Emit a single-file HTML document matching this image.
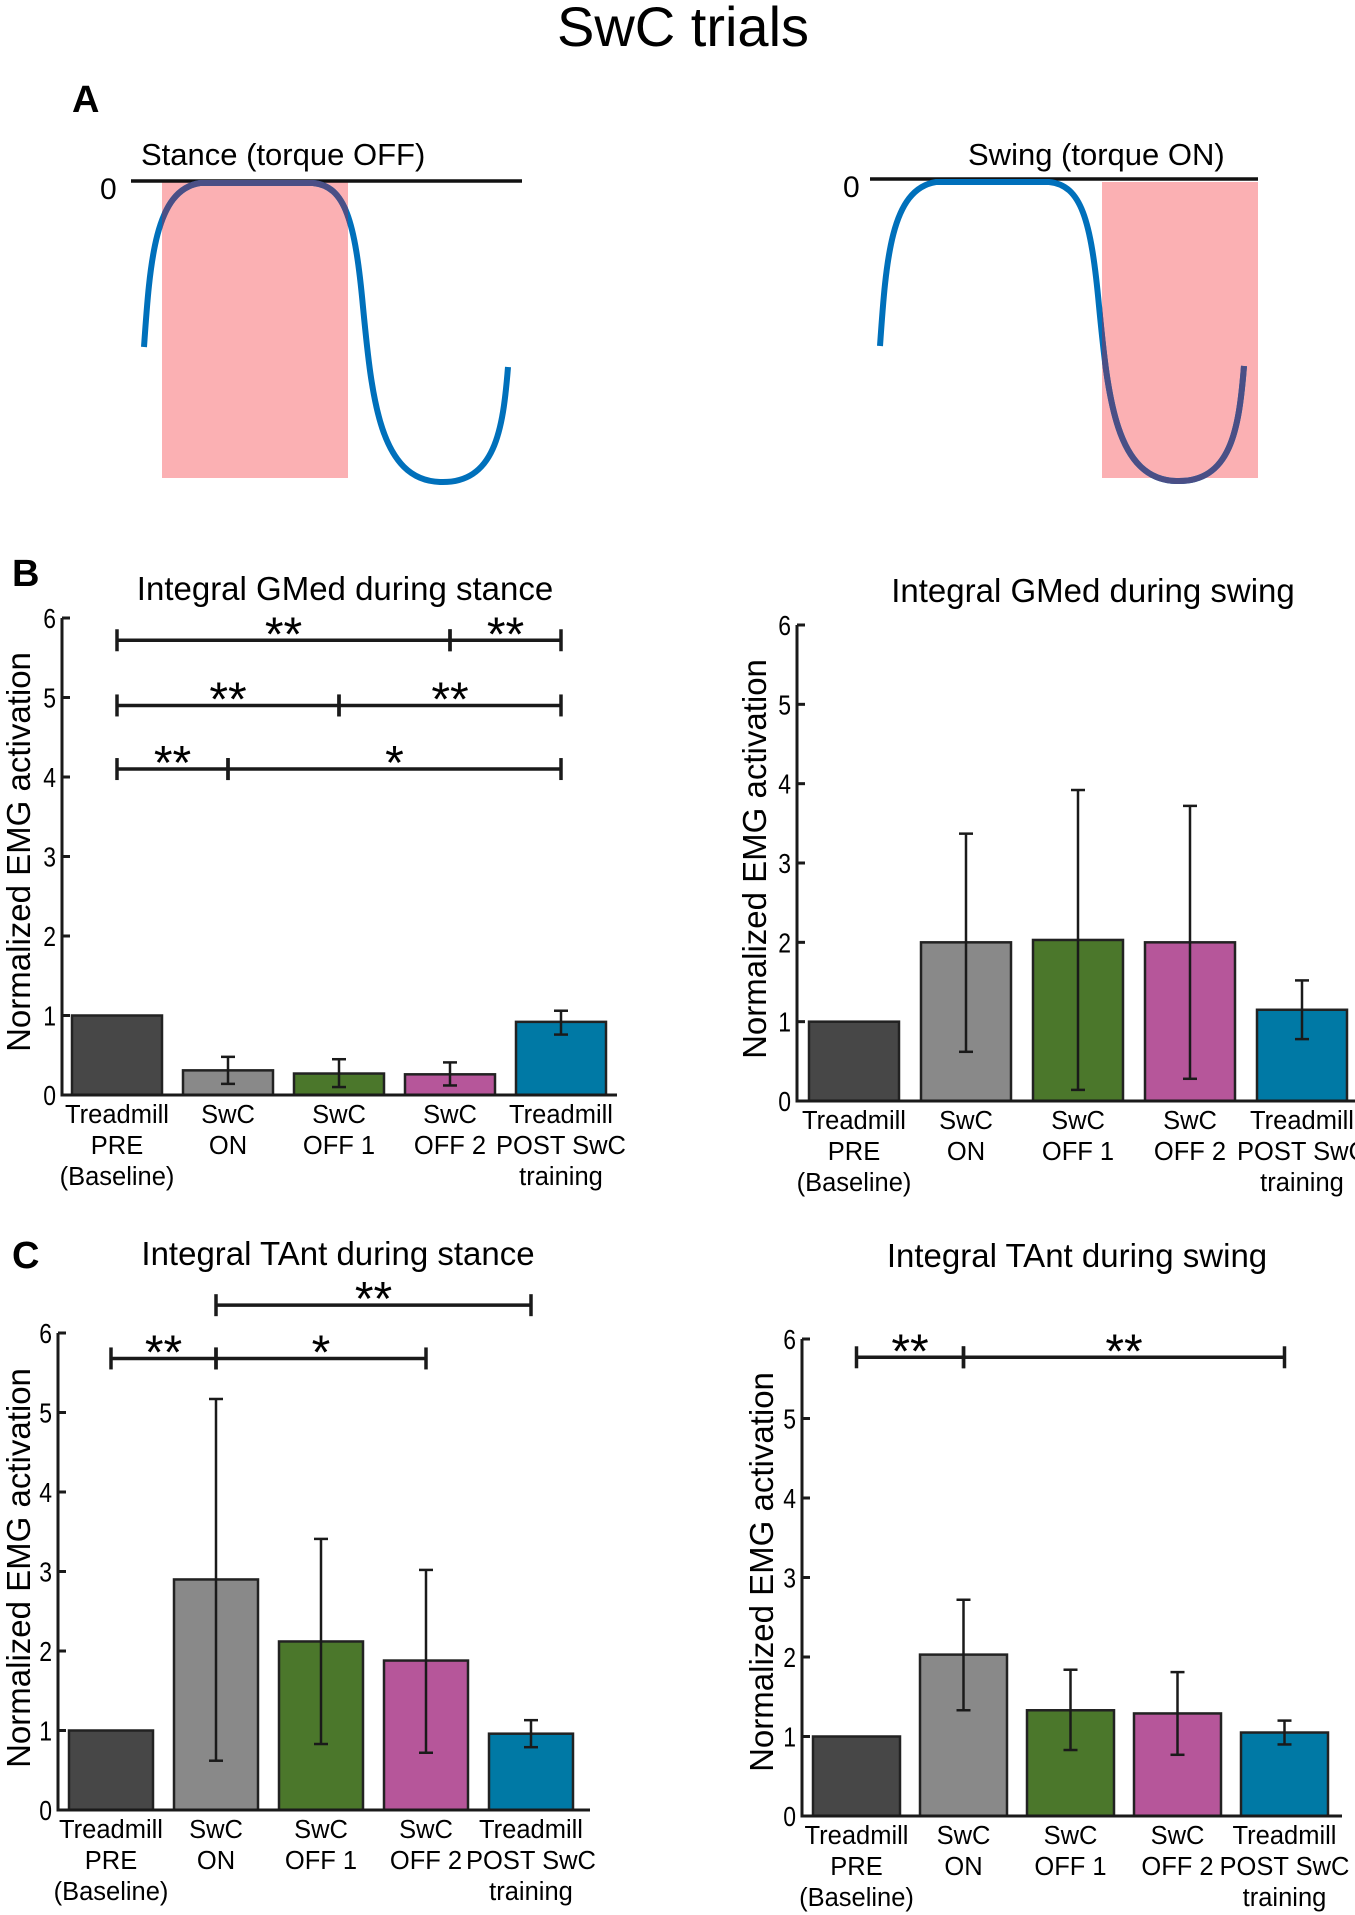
<!DOCTYPE html>
<html><head><meta charset="utf-8">
<style>
html,body{margin:0;padding:0;background:#fff;}
svg{display:block;font-family:"Liberation Sans",sans-serif;}
</style></head>
<body>
<svg id="fig" width="1355" height="1915" viewBox="0 0 1355 1915" xmlns="http://www.w3.org/2000/svg">
  <text x="683" y="46" font-size="56" text-anchor="middle">SwC trials</text>
  <text x="72" y="112" font-size="38" font-weight="bold">A</text>
  <text x="12" y="586" font-size="38" font-weight="bold">B</text>
  <text x="12" y="1268" font-size="38" font-weight="bold">C</text>

  <g>
    <rect x="162" y="182" width="186" height="296" fill="#fbb0b3"/>
    <line x1="131" y1="181" x2="522" y2="181" stroke="#111" stroke-width="3.5"/>
    <clipPath id="cl1"><rect x="162" y="170" width="186" height="310"/></clipPath>
    <path d="M144,347 C150,260 155,190 200,183 L313,183 C345,186 355,220 363,307 C372,400 380,480 440,482 C495,484 503,430 508,367" fill="none" stroke="#0070bb" stroke-width="6"/>
    <path clip-path="url(#cl1)" d="M144,347 C150,260 155,190 200,183 L313,183 C345,186 355,220 363,307 C372,400 380,480 440,482 C495,484 503,430 508,367" fill="none" stroke="#4a4f86" stroke-width="6"/>
    <text x="141" y="165" font-size="31">Stance (torque OFF)</text>
    <text x="100" y="199" font-size="30">0</text>
  </g>
  <g>
    <rect x="1102" y="182" width="156" height="296" fill="#fbb0b3"/>
    <line x1="870" y1="179" x2="1258" y2="179" stroke="#111" stroke-width="3.5"/>
    <clipPath id="cl2"><rect x="1102" y="170" width="156" height="320"/></clipPath>
    <g transform="translate(736,-1)">
      <path d="M144,347 C150,260 155,190 200,183 L313,183 C345,186 355,220 363,307 C372,400 380,480 440,482 C495,484 503,430 508,367" fill="none" stroke="#0070bb" stroke-width="6"/>
    </g>
    <g clip-path="url(#cl2)"><g transform="translate(736,-1)">
      <path d="M144,347 C150,260 155,190 200,183 L313,183 C345,186 355,220 363,307 C372,400 380,480 440,482 C495,484 503,430 508,367" fill="none" stroke="#4a4f86" stroke-width="6"/>
    </g></g>
    <text x="968" y="165" font-size="31">Swing (torque ON)</text>
    <text x="843" y="197" font-size="30">0</text>
  </g>
</svg>
<script>
// ---- data ----
const categories = [["Treadmill","PRE","(Baseline)"],["SwC","ON"],["SwC","OFF 1"],["SwC","OFF 2"],["Treadmill","POST SwC","training"]];
const barColors = ["#474747","#898989","#4b772b","#b6569a","#0079a5"];
const yTicks = [0,1,2,3,4,5,6];
const yTickLabels = ["0","1","2","3","4","5","6"];

const gmedStanceMean = [1.0, 0.31, 0.27, 0.26, 0.92];
const gmedStanceLow  = [1.0, 0.14, 0.10, 0.12, 0.76];
const gmedStanceHigh = [1.0, 0.48, 0.45, 0.41, 1.06];
const gmedStanceSig  = [[0,3,5.72,"**"],[3,4,5.72,"**"],[0,2,4.9,"**"],[2,4,4.9,"**"],[0,1,4.1,"**"],[1,4,4.1,"*"]];

const gmedSwingMean = [1.0, 2.0, 2.03, 2.0, 1.15];
const gmedSwingLow  = [1.0, 0.62, 0.14, 0.28, 0.78];
const gmedSwingHigh = [1.0, 3.37, 3.92, 3.72, 1.52];
const gmedSwingSig  = [];

const tantStanceMean = [1.0, 2.9, 2.12, 1.88, 0.96];
const tantStanceLow  = [0.99, 0.62, 0.83, 0.72, 0.79];
const tantStanceHigh = [1.01, 5.17, 3.41, 3.02, 1.13];
const tantStanceSig  = [[1,4,6.35,"**"],[0,1,5.68,"**"],[1,3,5.68,"*"]];

const tantSwingMean = [1.0, 2.03, 1.33, 1.29, 1.05];
const tantSwingLow  = [1.0, 1.33, 0.83, 0.77, 0.90];
const tantSwingHigh = [1.0, 2.72, 1.84, 1.81, 1.20];
const tantSwingSig  = [[0,1,5.77,"**"],[1,4,5.77,"**"]];

const NS = "http://www.w3.org/2000/svg";
const svg = document.getElementById("fig");
function mk(tag, attrs, parent){
  const e = document.createElementNS(NS, tag);
  for (const k in attrs) e.setAttribute(k, attrs[k]);
  (parent||svg).appendChild(e);
  return e;
}

function panel(cfg, mean, low, high, sig){
  const g = mk("g", {});
  
  
  const yS = v => cfg.y0 - v * (cfg.y0 - cfg.y6) / 6;
  const xC = i => cfg.bx0 + cfg.bw/2 + i * cfg.step;

  const t = mk("text", {x: cfg.tx, y: cfg.ty, "font-size": 33, "text-anchor": "middle"}, g);
  t.textContent = cfg.title;
  
  

  const yl = mk("text", {x: 0, y: 0, "font-size": 33, "text-anchor": "middle", transform: `translate(${cfg.ylx},${cfg.yly}) rotate(-90)`}, g);
  yl.textContent = "Normalized EMG activation";
  
  

  mean.forEach((v, i) => {
    const r = mk("rect", {x: xC(i) - cfg.bw/2, y: yS(v), width: cfg.bw, height: yS(0) - yS(v), fill: barColors[i], stroke: "#222", "stroke-width": 2.5}, g);
    
    
  });
  mean.forEach((v, i) => {
    if (high[i] - low[i] < 0.03) return;
    const eg = mk("g", {stroke: "#1a1a1a", "stroke-width": 2.5}, g);
    
    
    const x = xC(i);
    mk("line", {x1: x, x2: x, y1: yS(low[i]), y2: yS(high[i])}, eg);
    mk("line", {x1: x-7, x2: x+7, y1: yS(low[i]), y2: yS(low[i])}, eg);
    mk("line", {x1: x-7, x2: x+7, y1: yS(high[i]), y2: yS(high[i])}, eg);
  });
  const ax = mk("path", {d: `M${cfg.ax},${cfg.y6} V${cfg.y0} H${cfg.xend}`, fill: "none", stroke: "#1a1a1a", "stroke-width": 3}, g);
  
  
  yTicks.forEach((v, i) => {
    const tk = mk("line", {x1: cfg.ax, x2: cfg.ax + 8, y1: yS(v), y2: yS(v), stroke: "#1a1a1a", "stroke-width": 3}, g);
    
    
    const tl = mk("text", {x: cfg.ax - 6, y: yS(v) + 10, "font-size": 28, "text-anchor": "end", transform: `scale(0.82,1)`, "transform-origin": `${cfg.ax - 6} ${yS(v)}`}, g);
    tl.textContent = yTickLabels[i];
    
    
  });
  categories.forEach((lines, i) => {
    lines.forEach((s, j) => {
      const c = mk("text", {x: xC(i), y: cfg.y0 + 28 + j * 31, "font-size": 25.5, "text-anchor": "middle"}, g);
      c.textContent = s;
      
      
    });
  });
  sig.forEach(sg => {
    const [a, b, lv, star] = sg;
    const y = yS(lv), x1 = xC(a), x2 = xC(b);
    const bg = mk("g", {stroke: "#1a1a1a", "stroke-width": 3.5}, g);
    
    
    mk("line", {x1: x1, x2: x2, y1: y, y2: y}, bg);
    mk("line", {x1: x1, x2: x1, y1: y-11, y2: y+11}, bg);
    mk("line", {x1: x2, x2: x2, y1: y-11, y2: y+11}, bg);
    const st = mk("text", {x: (x1+x2)/2, y: y + 10, "font-size": 48, "text-anchor": "middle"}, g);
    st.textContent = star;
    
    
  });
}

panel({name:"gmed-stance-chart", title:"Integral GMed during stance", tx:345, ty:600, ax:62, y0:1095, y6:618, xend:617, bx0:72, bw:90, step:111, ylx:30, yly:852},
  gmedStanceMean, gmedStanceLow, gmedStanceHigh, gmedStanceSig);
panel({name:"gmed-swing-chart", title:"Integral GMed during swing", tx:1093, ty:602, ax:797, y0:1101, y6:625, xend:1355, bx0:809, bw:90, step:112, ylx:766, yly:859},
  gmedSwingMean, gmedSwingLow, gmedSwingHigh, gmedSwingSig);
panel({name:"tant-stance-chart", title:"Integral TAnt during stance", tx:338, ty:1265, ax:58, y0:1810, y6:1333, xend:590, bx0:69, bw:84, step:105, ylx:30, yly:1568},
  tantStanceMean, tantStanceLow, tantStanceHigh, tantStanceSig);
panel({name:"tant-swing-chart", title:"Integral TAnt during swing", tx:1077, ty:1267, ax:802, y0:1816, y6:1339, xend:1342, bx0:813, bw:87, step:107, ylx:773, yly:1572},
  tantSwingMean, tantSwingLow, tantSwingHigh, tantSwingSig);
</script>
</body></html>
